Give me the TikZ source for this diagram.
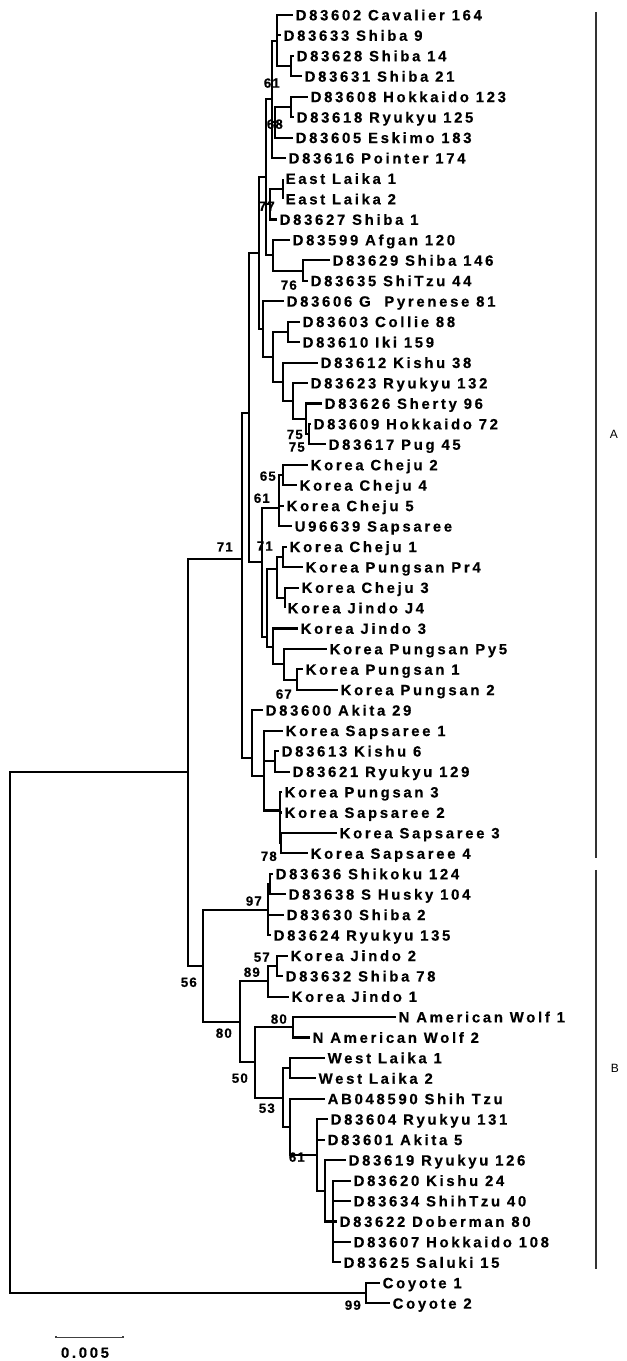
\documentclass[tikz,border=0pt]{standalone}
\usepackage{fontspec}
\setmainfont{Liberation Sans}
\newfontfamily\taxonfont[LetterSpace=18, BoldFeatures={FakeBold=0.4}]{Liberation Sans}
\newfontfamily\bootfont[LetterSpace=8, BoldFeatures={FakeBold=0.4}]{Liberation Sans}

\begin{document}
\begin{tikzpicture}[x=1pt, y=-20.45pt,
    branch/.style={line width=2.1pt, line join=miter},
    taxon/.style={anchor=west, inner xsep=2.5pt, inner ysep=0pt, text height=10.7pt, text depth=0pt, font=\taxonfont\bfseries\fontsize{14.9}{16}\selectfont},
    boot/.style={anchor=east, inner sep=0pt, text height=9.6pt, text depth=0pt, font=\bootfont\bfseries\fontsize{13.4}{15}\selectfont},
    cladebar/.style={line width=1.8pt, draw=black!80},
    cladelab/.style={inner sep=0pt, font=\fontsize{12}{14}\selectfont},
    scalebar/.style={line width=1.1pt, draw=black!75},
]
    \useasboundingbox (0,0.2665) rectangle (627,66.82);

    % Taxa, one per row
    \foreach \tipx/\txt [count=\i] in {
        293/D83602 Cavalier 164, 281/D83633 Shiba 9, 294/D83628 Shiba 14,
        302/D83631 Shiba 21, 308/D83608 Hokkaido 123, 294/D83618 Ryukyu 125,
        293/D83605 Eskimo 183, 286/D83616 Pointer 174, 283/East Laika 1,
        283/East Laika 2, 277/D83627 Shiba 1, 290/D83599 Afgan 120,
        330/D83629 Shiba 146, 308/D83635 ShiTzu 44, 284/D83606 G\ \ Pyrenese 81,
        300/D83603 Collie 88, 300/D83610 Iki 159, 318/D83612 Kishu 38,
        308/D83623 Ryukyu 132, 322/D83626 Sherty 96, 311/D83609 Hokkaido 72,
        326/D83617 Pug 45, 308/Korea Cheju 2, 297/Korea Cheju 4,
        284/Korea Cheju 5, 292/U96639 Sapsaree, 287/Korea Cheju 1,
        303/Korea Pungsan Pr4, 299/Korea Cheju 3, 285/Korea Jindo J4,
        298/Korea Jindo 3, 327/Korea Pungsan Py5, 303/Korea Pungsan 1,
        338/Korea Pungsan 2, 263/D83600 Akita 29, 283/Korea Sapsaree 1,
        279/D83613 Kishu 6, 290/D83621 Ryukyu 129, 282/Korea Pungsan 3,
        282/Korea Sapsaree 2, 337/Korea Sapsaree 3, 308/Korea Sapsaree 4,
        273/D83636 Shikoku 124, 286/D83638 S Husky 104, 284/D83630 Shiba 2,
        271/D83624 Ryukyu 135, 288/Korea Jindo 2, 283/D83632 Shiba 78,
        289/Korea Jindo 1, 396/N American Wolf 1, 310/N American Wolf 2,
        325/West Laika 1, 316/West Laika 2, 325/AB048590 Shih Tzu,
        328/D83604 Ryukyu 131, 325/D83601 Akita 5, 346/D83619 Ryukyu 126,
        351/D83620 Kishu 24, 351/D83634 ShihTzu 40, 337/D83622 Doberman 80,
        351/D83607 Hokkaido 108, 341/D83625 Saluki 15, 380/Coyote 1,
        390/Coyote 2} {
        \node[taxon] (t\i) at (\tipx,\i) {\txt};
    }

    % Internal nodes, cluster A (upper part)
    \coordinate (a1) at (291,3.5);
    \coordinate (a2) at (277,2.25);
    \coordinate (a3) at (291,5.5);
    \coordinate (a4) at (275,6.25);
    \coordinate (a5) at (272,5.125);
    \coordinate (a6) at (283,9.5);
    \coordinate (a7) at (270,10.25);
    \coordinate (a8) at (303,13.5);
    \coordinate (a9) at (273,12.75);
    \coordinate (a10) at (266,8.9375);
    \coordinate (a11) at (288,16.5);
    \coordinate (a12) at (309,21.5);
    \coordinate (a13) at (306,20.75);
    \coordinate (a14) at (293,19.875);
    \coordinate (a15) at (283,18.9375);
    \coordinate (a16) at (273,17.71875);
    \coordinate (a17) at (263,16.359);
    \coordinate (a18) at (259,12.648);
    % Korean dogs
    \coordinate (k1) at (283,23.5);
    \coordinate (k2) at (279,25.1);
    \coordinate (k3) at (283,27.5);
    \coordinate (k4) at (285,29.5);
    \coordinate (k5) at (277,28.1);
    \coordinate (k6) at (297,33.5);
    \coordinate (k7) at (284,32.75);
    \coordinate (k8) at (273,31.9);
    \coordinate (kk) at (267,31.4);
    \coordinate (k9) at (262,27.77);
    \coordinate (u1) at (249,20.46);
    % Sapsaree group
    \coordinate (s1) at (275,37.5);
    \coordinate (s2) at (281,41.5);
    \coordinate (s3) at (280,39.9);
    \coordinate (s5) at (264,38.2);
    \coordinate (s6) at (252,37.33);
    \coordinate (nA) at (242,27.6);
    % Cluster B
    \coordinate (b1) at (270,43.5);
    \coordinate (b2) at (268,44.75);
    \coordinate (b3) at (277,47.5);
    \coordinate (b4) at (268,48.25);
    \coordinate (b5) at (293,50.5);
    \coordinate (b6) at (290,52.5);
    \coordinate (b7) at (333,60);
    \coordinate (b8) at (325,58.5);
    \coordinate (b9) at (317,56.75);
    \coordinate (b10) at (290,55.375);
    \coordinate (b11) at (283,53.9375);
    \coordinate (b12) at (255,52.219);
    \coordinate (b13) at (240,50.234);
    \coordinate (b14) at (203,47.492);
    \coordinate (nAB) at (188,38.0);
    % Outgroup and root
    \coordinate (c1) at (366,63.5);
    \coordinate (root) at (10,50.75);

    % Branches
    \foreach \p/\c in {a1/t3.west, a1/t4.west, a2/t1.west, a2/t2.west, a2/a1,
        a3/t5.west, a3/t6.west, a4/a3, a4/t7.west, a5/a2, a5/a4, a5/t8.west,
        a6/t9.west, a6/t10.west, a7/a6, a7/t11.west, a8/t13.west, a8/t14.west,
        a9/t12.west, a9/a8, a10/a5, a10/a7, a10/a9, a11/t16.west, a11/t17.west,
        a12/t21.west, a12/t22.west, a13/t20.west, a13/a12, a14/t19.west, a14/a13,
        a15/t18.west, a15/a14, a16/a11, a16/a15, a17/t15.west, a17/a16,
        a18/a10, a18/a17,
        k1/t23.west, k1/t24.west, k2/k1, k2/t25.west, k2/t26.west,
        k3/t27.west, k3/t28.west, k4/t29.west, k4/t30.west, k5/k3, k5/k4,
        k6/t33.west, k6/t34.west, k7/t32.west, k7/k6, k8/t31.west, k8/k7,
        kk/k5, kk/k8, k9/k2, k9/kk, u1/a18, u1/k9,
        s1/t37.west, s1/t38.west, s2/t41.west, s2/t42.west, s3/t39.west,
        s3/t40.west, s3/s2, s5/t36.west, s5/s1, s5/s3, s6/t35.west,
        s6/s5, nA/u1, nA/s6,
        b1/t43.west, b1/t44.west, b2/b1, b2/t45.west, b2/t46.west,
        b3/t47.west, b3/t48.west, b4/b3, b4/t49.west, b5/t50.west, b5/t51.west,
        b6/t52.west, b6/t53.west, b7/t58.west, b7/t59.west, b7/t60.west,
        b7/t61.west, b7/t62.west, b8/t57.west, b8/b7, b9/t55.west, b9/t56.west,
        b9/b8, b10/t54.west, b10/b9, b11/b6, b11/b10, b12/b5, b12/b11,
        b13/b4, b13/b12, b14/b2, b14/b13, nAB/nA, nAB/b14,
        c1/t63.west, c1/t64.west, root/nAB, root/c1} {
        \draw[branch] (\p) |- (\c);
    }

    % Bootstrap values
    \node[boot] (bs71a) at (233,27.0) {71};
    \node[boot] (bs61a) at (280,4.32) {61};
    \node[boot] (bs68) at (283,6.33) {68};
    \node[boot] (bs77) at (275,10.34) {77};
    \node[boot] (bs76) at (297,14.2) {76};
    \node[boot] (bs75a) at (303,21.5) {75};
    \node[boot] (bs75b) at (305,22.12) {75};
    \node[boot] (bs65) at (276,23.54) {65};
    \node[boot] (bs61b) at (270,24.62) {61};
    \node[boot] (bs71b) at (273,26.96) {71};
    \node[boot] (bs67) at (292,34.2) {67};
    \node[boot] (bs78) at (277,42.13) {78};
    \node[boot] (bs97) at (262,44.32) {97};
    \node[boot] (bs57) at (270,47.06) {57};
    \node[boot] (bs89) at (260,47.8) {89};
    \node[boot] (bs56) at (197,48.29) {56};
    \node[boot] (bs80a) at (287,50.09) {80};
    \node[boot] (bs80b) at (232,50.78) {80};
    \node[boot] (bs50) at (248,52.98) {50};
    \node[boot] (bs53) at (275,54.45) {53};
    \node[boot] (bs61c) at (305,56.84) {61};
    \node[boot] (bs99) at (361,64.08) {99};

    % Clusters
    \draw[cladebar] (596,0.85) -- (596,42.2);
    \draw[cladebar] (596,42.8) -- (596,62.3);
    \node[cladelab] (labA) at (614,21.5) {A};
    \node[cladelab] (labB) at (615,52.5) {B};

    % Scale
    \draw[scalebar] (56,65.6) -- (56,65.68) -- (123,65.68) -- (123,65.6);
    \node[taxon, anchor=center, inner xsep=0pt] (scale) at (85,66.4) {0.005};
\end{tikzpicture}
\end{document}
